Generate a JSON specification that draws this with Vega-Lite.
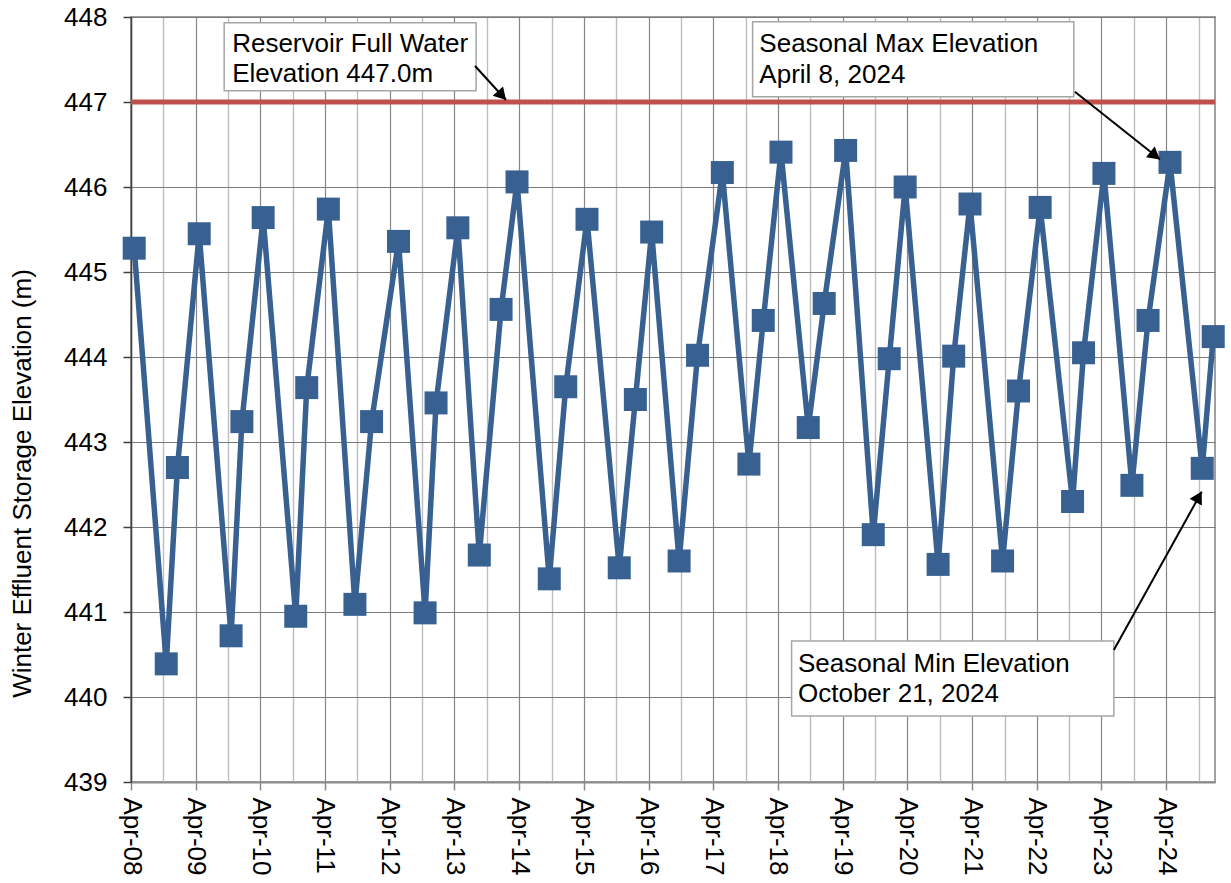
{
  "$schema": "https://vega.github.io/schema/vega-lite/v6.json",
  "width": 1084,
  "height": 765,
  "autosize": {"type": "none"},
  "padding": {"left": 131, "top": 17, "right": 16, "bottom": 101},
  "background": "white",
  "config": {
    "font": "Liberation Sans",
    "view": {"stroke": "#A0A0A0", "strokeWidth": 2},
    "axis": {"labelFont": "Liberation Sans", "titleFont": "Liberation Sans", "labelColor": "#000000", "titleColor": "#000000"}
  },
  "datasets": {
    "elev": [
      {"date": "2008-04-19", "elev": 445.28},
      {"date": "2008-10-17", "elev": 440.39},
      {"date": "2008-12-19", "elev": 442.70},
      {"date": "2009-04-21", "elev": 445.45},
      {"date": "2009-10-18", "elev": 440.72},
      {"date": "2009-12-18", "elev": 443.24},
      {"date": "2010-04-17", "elev": 445.64},
      {"date": "2010-10-18", "elev": 440.95},
      {"date": "2010-12-19", "elev": 443.64},
      {"date": "2011-04-20", "elev": 445.74},
      {"date": "2011-09-17", "elev": 441.09},
      {"date": "2011-12-20", "elev": 443.24},
      {"date": "2012-05-20", "elev": 445.36},
      {"date": "2012-10-17", "elev": 440.99},
      {"date": "2012-12-18", "elev": 443.46},
      {"date": "2013-04-20", "elev": 445.52},
      {"date": "2013-08-19", "elev": 441.67},
      {"date": "2013-12-20", "elev": 444.56},
      {"date": "2014-03-20", "elev": 446.06},
      {"date": "2014-09-18", "elev": 441.39},
      {"date": "2014-12-20", "elev": 443.65},
      {"date": "2015-04-19", "elev": 445.62},
      {"date": "2015-10-18", "elev": 441.52},
      {"date": "2016-01-17", "elev": 443.50},
      {"date": "2016-04-18", "elev": 445.47},
      {"date": "2016-09-20", "elev": 441.60},
      {"date": "2017-01-02", "elev": 444.02},
      {"date": "2017-05-22", "elev": 446.17},
      {"date": "2017-10-19", "elev": 442.74},
      {"date": "2018-01-08", "elev": 444.43},
      {"date": "2018-04-18", "elev": 446.41},
      {"date": "2018-09-19", "elev": 443.17},
      {"date": "2018-12-18", "elev": 444.63},
      {"date": "2019-04-18", "elev": 446.43},
      {"date": "2019-09-21", "elev": 441.91},
      {"date": "2019-12-20", "elev": 443.98},
      {"date": "2020-03-19", "elev": 446.00},
      {"date": "2020-09-21", "elev": 441.56},
      {"date": "2020-12-18", "elev": 444.01},
      {"date": "2021-03-20", "elev": 445.80},
      {"date": "2021-09-20", "elev": 441.60},
      {"date": "2021-12-19", "elev": 443.60},
      {"date": "2022-04-20", "elev": 445.76},
      {"date": "2022-10-20", "elev": 442.30},
      {"date": "2022-12-21", "elev": 444.05},
      {"date": "2023-04-15", "elev": 446.16},
      {"date": "2023-09-20", "elev": 442.49},
      {"date": "2023-12-20", "elev": 444.43},
      {"date": "2024-04-22", "elev": 446.29},
      {"date": "2024-10-21", "elev": 442.69},
      {"date": "2024-12-22", "elev": 444.24}
    ],
    "notes": [
      {"id": "full", "label": "Reservoir Full Water\nElevation 447.0m", "bx1": "2009-09-09", "bx2": "2013-08-01", "by1": 447.933, "by2": 447.133, "tx": "2009-10-24", "ty": 447.84, "ax1": "2013-07-26", "ay1": 447.424, "ax2": "2014-01-17", "ay2": 447.024, "hx": "2013-12-25", "hy": 447.075},
      {"id": "max", "label": "Seasonal Max Elevation\nApril 8, 2024", "bx1": "2017-11-09", "bx2": "2022-10-27", "by1": 447.945, "by2": 447.062, "tx": "2017-12-17", "ty": 447.835, "ax1": "2022-11-02", "ay1": 447.121, "ax2": "2024-02-25", "ay2": 446.326, "hx": "2024-01-29", "hy": 446.369},
      {"id": "min", "label": "Seasonal Min Elevation\nOctober 21, 2024", "bx1": "2018-06-17", "bx2": "2023-06-10", "by1": 440.659, "by2": 439.776, "tx": "2018-07-23", "ty": 440.545, "ax1": "2023-06-10", "ay1": 440.553, "ax2": "2024-10-18", "ay2": 442.415, "hx": "2024-10-01", "hy": 442.354}
    ]
  },
  "resolve": {"axis": {"x": "independent", "y": "independent"}},
  "layer": [
    {
      "data": {"name": "elev"},
      "mark": {"type": "line", "color": "#386192", "strokeWidth": 5.5},
      "encoding": {
        "x": {
          "field": "date", "type": "temporal",
          "scale": {"type": "utc", "nice": false, "domain": [{"year": 2008, "month": 4, "date": 1, "utc": true}, {"year": 2025, "month": 1, "date": 1, "utc": true}]},
          "axis": {
            "orient": "bottom",
            "values": [
              {"year": 2008, "month": 4, "date": 1, "utc": true},
              {"year": 2009, "month": 4, "date": 1, "utc": true},
              {"year": 2010, "month": 4, "date": 1, "utc": true},
              {"year": 2011, "month": 4, "date": 1, "utc": true},
              {"year": 2012, "month": 4, "date": 1, "utc": true},
              {"year": 2013, "month": 4, "date": 1, "utc": true},
              {"year": 2014, "month": 4, "date": 1, "utc": true},
              {"year": 2015, "month": 4, "date": 1, "utc": true},
              {"year": 2016, "month": 4, "date": 1, "utc": true},
              {"year": 2017, "month": 4, "date": 1, "utc": true},
              {"year": 2018, "month": 4, "date": 1, "utc": true},
              {"year": 2019, "month": 4, "date": 1, "utc": true},
              {"year": 2020, "month": 4, "date": 1, "utc": true},
              {"year": 2021, "month": 4, "date": 1, "utc": true},
              {"year": 2022, "month": 4, "date": 1, "utc": true},
              {"year": 2023, "month": 4, "date": 1, "utc": true},
              {"year": 2024, "month": 4, "date": 1, "utc": true}
            ],
            "format": "%b-%y",
            "title": null,
            "labelAngle": 90,
            "labelAlign": "left",
            "labelBaseline": "middle",
            "labelFontSize": 26,
            "labelPadding": 7,
            "labelFlush": false,
            "labelOverlap": false,
            "labelBound": false,
            "tickSize": 8,
            "tickColor": "#888888",
            "tickWidth": 1.5,
            "domainColor": "#8C8C8C",
            "domainWidth": 2,
            "grid": true,
            "gridColor": "#868686",
            "gridWidth": 1.2
          }
        },
        "y": {
          "field": "elev", "type": "quantitative",
          "scale": {"domain": [439, 448], "nice": false, "zero": false},
          "axis": {
            "orient": "left",
            "values": [439, 440, 441, 442, 443, 444, 445, 446, 447, 448],
            "title": "Winter Effluent Storage Elevation (m)",
            "titleFontSize": 26,
            "titleFontWeight": "normal",
            "titleAngle": -90,
            "titleAlign": "center",
            "titleBaseline": "middle",
            "titleX": -109,
            "titleY": 466,
            "labelFontSize": 26,
            "labelPadding": 16,
            "labelFlush": false,
            "labelOverlap": false,
            "tickSize": 8,
            "tickColor": "#404040",
            "tickWidth": 1.5,
            "domainColor": "#404040",
            "domainWidth": 1.5,
            "grid": true,
            "gridColor": "#7A7A7A",
            "gridWidth": 1.2
          }
        }
      }
    },
    {
      "data": {"name": "elev"},
      "mark": {"type": "point", "shape": "square", "filled": true, "opacity": 1, "size": 529, "color": "#386192"},
      "encoding": {
        "x": {
          "field": "date", "type": "temporal", "scale": {"type": "utc"},
          "axis": {
            "orient": "top",
            "values": [
              {"year": 2008, "month": 10, "date": 1, "utc": true},
              {"year": 2009, "month": 10, "date": 1, "utc": true},
              {"year": 2010, "month": 10, "date": 1, "utc": true},
              {"year": 2011, "month": 10, "date": 1, "utc": true},
              {"year": 2012, "month": 10, "date": 1, "utc": true},
              {"year": 2013, "month": 10, "date": 1, "utc": true},
              {"year": 2014, "month": 10, "date": 1, "utc": true},
              {"year": 2015, "month": 10, "date": 1, "utc": true},
              {"year": 2016, "month": 10, "date": 1, "utc": true},
              {"year": 2017, "month": 10, "date": 1, "utc": true},
              {"year": 2018, "month": 10, "date": 1, "utc": true},
              {"year": 2019, "month": 10, "date": 1, "utc": true},
              {"year": 2020, "month": 10, "date": 1, "utc": true},
              {"year": 2021, "month": 10, "date": 1, "utc": true},
              {"year": 2022, "month": 10, "date": 1, "utc": true},
              {"year": 2023, "month": 10, "date": 1, "utc": true},
              {"year": 2024, "month": 10, "date": 1, "utc": true}
            ],
            "title": null,
            "labels": false,
            "ticks": false,
            "domain": false,
            "grid": true,
            "gridColor": "#BDBDBD",
            "gridWidth": 1.4
          }
        },
        "y": {"field": "elev", "type": "quantitative", "axis": null}
      }
    },
    {
      "data": {"values": [{"level": 447}]},
      "mark": {"type": "rule", "color": "#C0504D", "strokeWidth": 5},
      "encoding": {
        "y": {"field": "level", "type": "quantitative", "axis": null}
      }
    },
    {
      "data": {"name": "notes"},
      "mark": {"type": "rect", "fill": "white", "stroke": "#A6A6A6", "strokeWidth": 1.5},
      "encoding": {
        "x": {"field": "bx1", "type": "temporal", "scale": {"type": "utc"}, "axis": null},
        "x2": {"field": "bx2"},
        "y": {"field": "by1", "type": "quantitative", "axis": null},
        "y2": {"field": "by2"}
      }
    },
    {
      "data": {"name": "notes"},
      "mark": {"type": "text", "align": "left", "baseline": "top", "fontSize": 26, "font": "Liberation Sans", "color": "#000000", "lineBreak": "\n", "lineHeight": 30.5},
      "encoding": {
        "x": {"field": "tx", "type": "temporal", "scale": {"type": "utc"}, "axis": null},
        "y": {"field": "ty", "type": "quantitative", "axis": null},
        "text": {"field": "label", "type": "nominal"}
      }
    },
    {
      "data": {"name": "notes"},
      "mark": {"type": "rule", "color": "#000000", "strokeWidth": 2},
      "encoding": {
        "x": {"field": "ax1", "type": "temporal", "scale": {"type": "utc"}, "axis": null},
        "x2": {"field": "ax2"},
        "y": {"field": "ay1", "type": "quantitative", "axis": null},
        "y2": {"field": "ay2"}
      }
    },
    {
      "data": {"name": "notes"},
      "transform": [{"filter": "datum.id == 'full'"}],
      "mark": {"type": "point", "shape": "triangle-up", "filled": true, "opacity": 1, "color": "#000000", "size": 196, "angle": 137.6},
      "encoding": {
        "x": {"field": "hx", "type": "temporal", "scale": {"type": "utc"}, "axis": null},
        "y": {"field": "hy", "type": "quantitative", "axis": null}
      }
    },
    {
      "data": {"name": "notes"},
      "transform": [{"filter": "datum.id == 'max'"}],
      "mark": {"type": "point", "shape": "triangle-up", "filled": true, "opacity": 1, "color": "#000000", "size": 196, "angle": 128.5},
      "encoding": {
        "x": {"field": "hx", "type": "temporal", "scale": {"type": "utc"}, "axis": null},
        "y": {"field": "hy", "type": "quantitative", "axis": null}
      }
    },
    {
      "data": {"name": "notes"},
      "transform": [{"filter": "datum.id == 'min'"}],
      "mark": {"type": "point", "shape": "triangle-up", "filled": true, "opacity": 1, "color": "#000000", "size": 196, "angle": 29},
      "encoding": {
        "x": {"field": "hx", "type": "temporal", "scale": {"type": "utc"}, "axis": null},
        "y": {"field": "hy", "type": "quantitative", "axis": null}
      }
    }
  ]
}
